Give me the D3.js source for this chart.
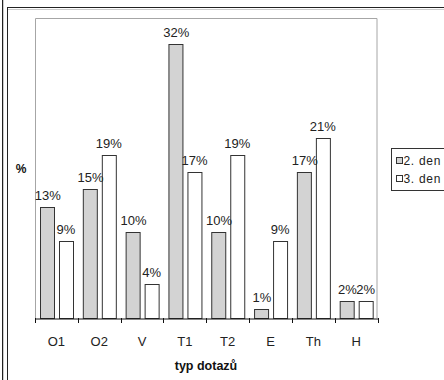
<!DOCTYPE html>
<html>
<head>
<meta charset="utf-8">
<script src="https://cdn.jsdelivr.net/npm/d3@7"></script>
<style>
  html, body { margin: 0; padding: 0; background: #fff; }
  svg { display: block; font-family: "Liberation Sans", Arial, sans-serif; }
</style>
</head>
<body>
<svg id="chart" width="444" height="380"></svg>
<script>
// Query types and the share of each type per day (%)
const categories = ["O1", "O2", "V", "T1", "T2", "E", "Th", "H"];
const seriesNames = ["2. den", "3. den"];
const day2 = [13, 15, 10, 32, 10, 1, 17, 2];
const day3 = [9, 19, 4, 17, 19, 9, 21, 2];
const seriesColors = ["#d3d3d3", "#ffffff"];

const FONT = "'Liberation Sans', Arial, sans-serif";
const svg = d3.select("#chart");

// outer frame lines
const frame = svg.append("g");
frame.append("line").attr("x1", 2.5).attr("x2", 2.5).attr("y1", 0).attr("y2", 380).attr("stroke", "#222");
frame.append("line").attr("x1", 3.5).attr("x2", 3.5).attr("y1", 0).attr("y2", 380).attr("stroke", "#ccc");
frame.append("line").attr("x1", 7.5).attr("x2", 7.5).attr("y1", 7).attr("y2", 380).attr("stroke", "#222");
frame.append("line").attr("x1", 7).attr("x2", 444).attr("y1", 7.5).attr("y2", 7.5).attr("stroke", "#222");
frame.append("line").attr("x1", 8).attr("x2", 444).attr("y1", 9.5).attr("y2", 9.5).attr("stroke", "#ccc");

const plot = { left: 35, right: 377.5, top: 18, bottom: 318 };

const x = d3.scaleBand().domain(categories).range([plot.left, plot.right]);
const xInner = d3.scaleBand().domain(seriesNames)
  .range([0, x.bandwidth()]).paddingInner(0.25).paddingOuter(0.3);
const y = d3.scaleLinear().domain([0, 35]).range([plot.bottom, plot.top]);

// plot area border (top, left, right)
svg.append("path")
  .attr("d", `M${plot.left + 0.5},${plot.bottom}V${plot.top + 0.5}H${plot.right - 0.5}V${plot.bottom}`)
  .attr("fill", "none").attr("stroke", "#a6a6a6").attr("stroke-width", 1);

const rows = categories.map((c, i) => ({ cat: c, values: [day2[i], day3[i]] }));

const groups = svg.append("g").selectAll("g").data(rows).join("g")
  .attr("transform", d => `translate(${x(d.cat)},0)`);

groups.selectAll("rect").data(d => d.values.map((v, j) => ({ v, s: seriesNames[j], j })))
  .join("rect")
  .attr("x", d => Math.round(xInner(d.s)) + 0.5)
  .attr("y", d => Math.round(y(d.v)) + 0.5)
  .attr("width", Math.round(xInner.bandwidth()))
  .attr("height", d => plot.bottom - Math.round(y(d.v)))
  .attr("fill", d => seriesColors[d.j])
  .attr("stroke", "#333").attr("stroke-width", 1);

groups.selectAll("text").data(d => d.values.map((v, j) => ({ v, s: seriesNames[j] })))
  .join("text")
  .attr("x", d => xInner(d.s) + xInner.bandwidth() / 2 + 0.5)
  .attr("y", d => y(d.v) - 7)
  .attr("text-anchor", "middle")
  .attr("font-family", FONT)
  .attr("font-size", "13px").attr("fill", "#222")
  .text(d => d.v + "%");

// category axis
const xAxis = d3.axisBottom(x).tickSize(0).tickPadding(18);
const ax = svg.append("g").attr("transform", `translate(0,${plot.bottom + 0.5})`).call(xAxis);
ax.attr("font-family", FONT);
ax.select(".domain").attr("stroke", "#111");
ax.selectAll(".tick text").attr("font-size", "13px").attr("fill", "#222");
// tick marks at band boundaries
const bounds = categories.map(c => x(c)).concat([plot.right]);
svg.append("g").selectAll("line").data(bounds).join("line")
  .attr("x1", d => Math.round(d) + 0.5).attr("x2", d => Math.round(d) + 0.5)
  .attr("y1", plot.bottom).attr("y2", plot.bottom + 5)
  .attr("stroke", "#111");

// axis titles
svg.append("text").attr("x", 21).attr("y", 173).attr("text-anchor", "middle")
  .attr("font-family", FONT)
  .attr("font-size", "12px").attr("font-weight", "bold").attr("fill", "#111").text("%");
svg.append("text").attr("x", 206).attr("y", 370).attr("text-anchor", "middle")
  .attr("font-family", FONT)
  .attr("font-size", "12.5px").attr("font-weight", "bold").attr("fill", "#111").text("typ dotazů");

// legend
const lg = svg.append("g");
lg.append("rect").attr("x", 391.5).attr("y", 148.5).attr("width", 60).attr("height", 42)
  .attr("fill", "#fff").attr("stroke", "#333");
seriesNames.forEach((s, i) => {
  const cy = 160.5 + i * 18;
  lg.append("rect").attr("x", 396.5).attr("y", cy - 3).attr("width", 6).attr("height", 6)
    .attr("fill", seriesColors[i]).attr("stroke", "#333");
  lg.append("text").attr("x", 403.5).attr("y", cy + 4)
    .attr("font-family", FONT).attr("letter-spacing", "0.7px")
    .attr("font-size", "12px").attr("fill", "#222").text(s);
});
</script>
</body>
</html>
